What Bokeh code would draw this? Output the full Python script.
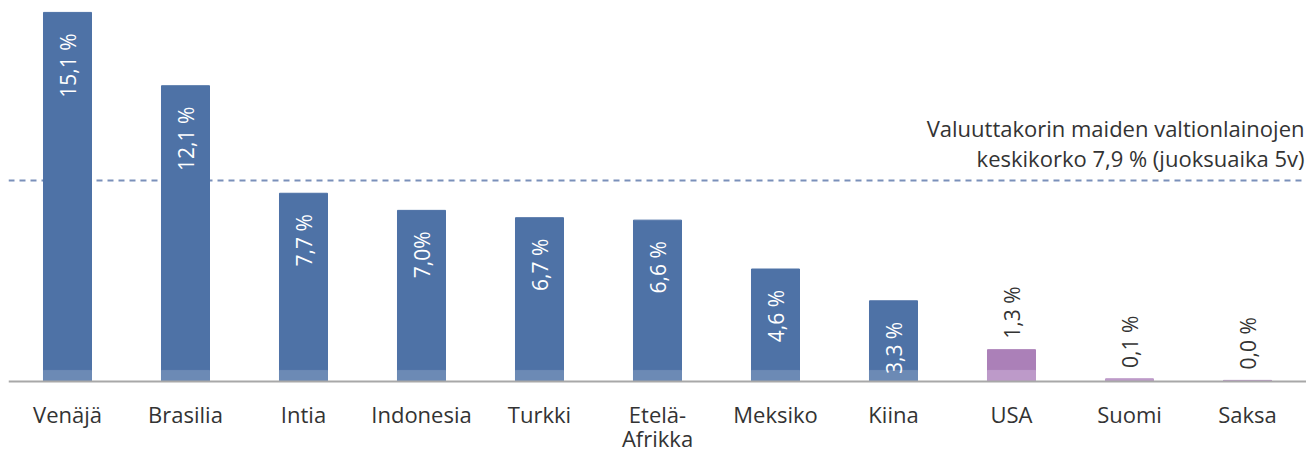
import math
from bokeh.plotting import figure
from bokeh.models import ColumnDataSource, FactorRange, Range1d, Span
from bokeh.core.properties import value
from bokeh.embed import file_html
from bokeh.resources import INLINE

# ---- data ----
categories = ["Venäjä", "Brasilia", "Intia", "Indonesia", "Turkki", "Etelä-\nAfrikka",
              "Meksiko", "Kiina", "USA", "Suomi", "Saksa"]
rates = [15.1, 12.1, 7.7, 7.0, 6.7, 6.6, 4.6, 3.3, 1.3, 0.1, 0.04]
rate_labels = ["15,1 %", "12,1 %", "7,7 %", "7,0%", "6,7 %", "6,6 %", "4,6 %", "3,3 %",
               "1,3 %", "0,1 %", "0,0 %"]
in_basket = [True, True, True, True, True, True, True, True, False, False, False]
avg_rate_line = 8.22   # drawn position of the dashed reference line
avg_text = ["Valuuttakorin maiden valtionlainojen", "keskikorko 7,9 % (juoksuaika 5v)"]

FONT = "Open Sans"
BLUE, BLUE_L = "#4E72A6", "#6C8AB5"
PURP, PURP_L = "#AB80B8", "#BD9AC9"
TXT = "#333333"
band = 0.45

colors = [BLUE if b else PURP for b in in_basket]
colors_l = [BLUE_L if b else PURP_L for b in in_basket]
src = ColumnDataSource(dict(x=categories, top=rates, band=[min(r, band) for r in rates],
                            c=colors, cl=colors_l, lab=rate_labels))

inside = [i for i, b in enumerate(in_basket) if b]
outside = [i for i, b in enumerate(in_basket) if not b]
src_in = ColumnDataSource(dict(x=[categories[i] for i in inside], y=[rates[i] for i in inside],
                               lab=[rate_labels[i] for i in inside]))
src_out = ColumnDataSource(dict(x=[categories[i] for i in outside], y=[rates[i] for i in outside],
                                lab=[rate_labels[i] for i in outside]))

# category label lines (multi-line labels split into separate rows)
cx, ct, coff = [], [], []
for c in categories:
    for k, line in enumerate(c.split("\n")):
        cx.append(c)
        ct.append(line)
        coff.append(33 + 24 * k)
src_cat = ColumnDataSource(dict(x=cx, y=[0] * len(cx), t=ct, off=coff))

p = figure(width=1306, height=454, x_range=FactorRange(*categories, range_padding=0),
           y_range=Range1d(-2.99, 15.26), output_backend="svg", toolbar_location=None,
           x_axis_location=None, y_axis_location=None,
           min_border_left=8, min_border_top=8, min_border_right=0, min_border_bottom=0)
p.outline_line_color = None
p.xgrid.visible = False
p.ygrid.visible = False

p.add_layout(Span(location=avg_rate_line, dimension="width", line_color="#7A90BA",
                  line_width=2, line_dash="6 5", level="underlay"))

p.vbar(x="x", top="top", width=0.407, color="c", source=src)
p.vbar(x="x", top="band", width=0.407, color="cl", source=src)
p.add_layout(Span(location=0, dimension="width", line_color="#A8A8A8", line_width=2))

p.text(x="x", y="y", text="lab", source=src_in, angle=math.pi / 2, text_align="right",
       text_baseline="middle", y_offset=21, text_color="white", text_font=value(FONT),
       text_font_size="21px")
p.text(x="x", y="y", text="lab", source=src_out, angle=math.pi / 2, text_align="left",
       text_baseline="middle", y_offset=-11, text_color=TXT, text_font=value(FONT),
       text_font_size="21px")

# category labels
p.text(x="x", y="y", text="t", source=src_cat, text_align="center",
       text_baseline="alphabetic", y_offset="off", text_color=TXT, text_font=value(FONT),
       text_font_size="22px")

# annotation for the dashed line
p.text(x=[categories[-1]] * 2, y=[avg_rate_line] * 2, text=avg_text, text_align="right",
       text_baseline="alphabetic", x_offset=57, y_offset=[-53, -23], text_color=TXT,
       text_font=value(FONT), text_font_size="22px")

open("out.html", "w").write(file_html(p, INLINE))
